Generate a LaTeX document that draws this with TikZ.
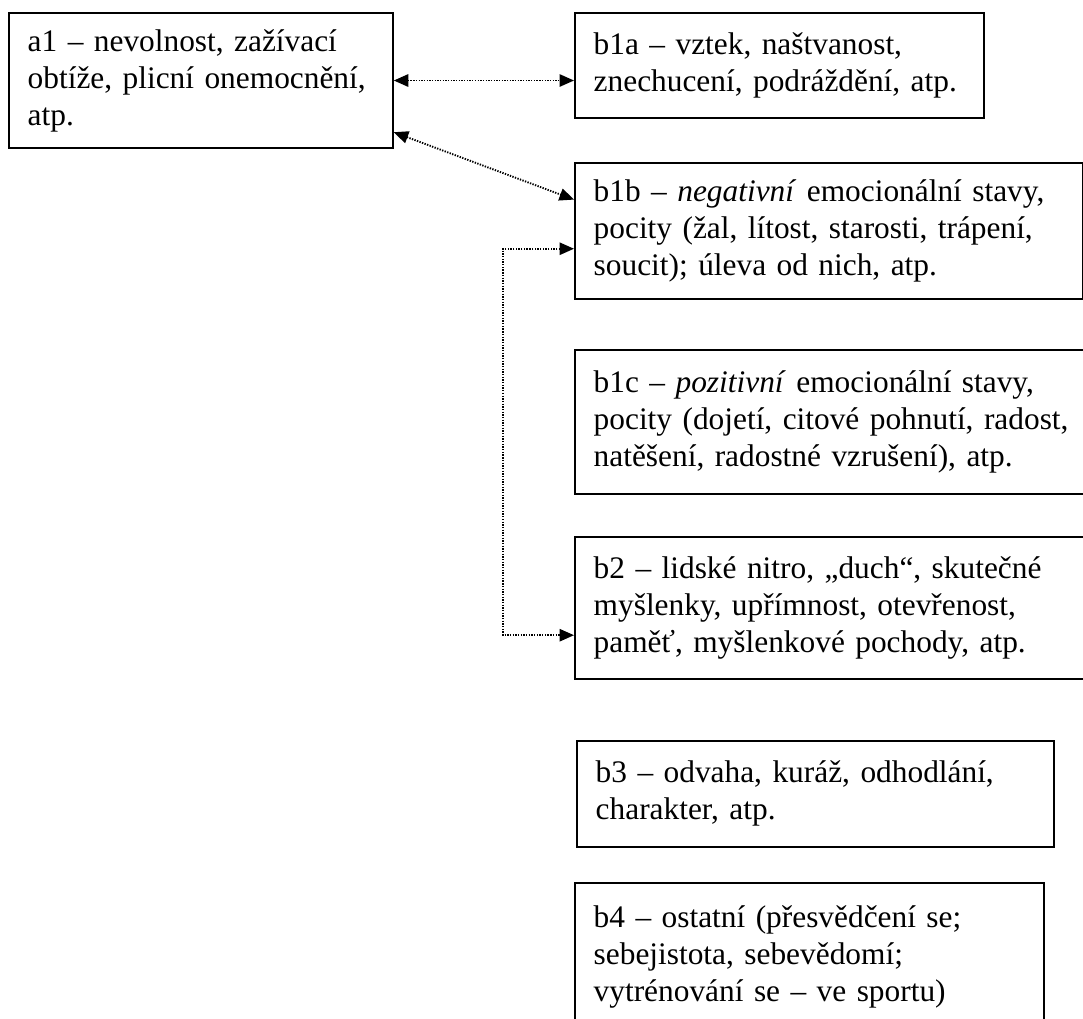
\documentclass[tikz,border=0pt]{standalone}
\usepackage{fontspec}
\setmainfont{Liberation Serif}
\usepackage{tikz}
\usetikzlibrary{arrows.meta}

\begin{document}
\begin{tikzpicture}[x=0.373pt,y=-0.373pt,
    box/.style={draw,line width=0.7pt,anchor=north west,align=left,
      inner xsep=7pt,inner ysep=0pt,font=\fontsize{11.7}{13.8}\selectfont},
    link/.style={line width=0.7pt,dash pattern=on 0.5pt off 0.5pt,
      {Triangle[length=5.4pt,width=4.6pt]}-{Triangle[length=5.4pt,width=4.6pt]}}]
    \useasboundingbox (0,0) rectangle (1083,1018);
    \node (a1) at (8,12) [box,text width=129.2pt,minimum height=50.4pt] {a1 – nevolnost, zažívací\\obtíže, plicní onemocnění,\\atp.};
    \node (b1a) at (574,12) [box,text width=138.6pt,minimum height=39.2pt] {b1a – vztek, naštvanost,\\znechucení, podráždění, atp.};
    \node (b1b) at (574,162) [box,text width=175.5pt,minimum height=50.7pt] {b1b – \textit{negativní} emocionální stavy,\\pocity (žal, lítost, starosti, trápení,\\soucit); úleva od nich, atp.};
    \node (b1c) at (574,349) [box,text width=178.5pt,minimum height=53.7pt] {b1c – \textit{pozitivní} emocionální stavy,\\pocity (dojetí, citové pohnutí, radost,\\natěšení, radostné vzrušení), atp.};
    \node (b2) at (574,536) [box,text width=178.5pt,minimum height=53pt] {b2 – lidské nitro, „duch“, skutečné\\myšlenky, upřímnost, otevřenost,\\paměť, myšlenkové pochody, atp.};
    \node (b3) at (576,740) [box,text width=163.9pt,minimum height=39.5pt] {b3 – odvaha, kuráž, odhodlání,\\charakter, atp.};
    \node (b4) at (574,882) [box,text width=160.9pt,minimum height=55pt] {b4 – ostatní (přesvědčení se;\\sebejistota, sebevědomí;\\vytrénování se – ve sportu)};
    \coordinate (elb) at (503,0);
    \draw[link] (a1.east) to (a1.east -| b1a.west);
    \draw[link] (a1.-15) to (b1b.173);
    \draw[link] (b1b.184) -- (b1b.184 -| elb) -- (b2.186 -| elb) -- (b2.186);
  \end{tikzpicture}
\end{document}
